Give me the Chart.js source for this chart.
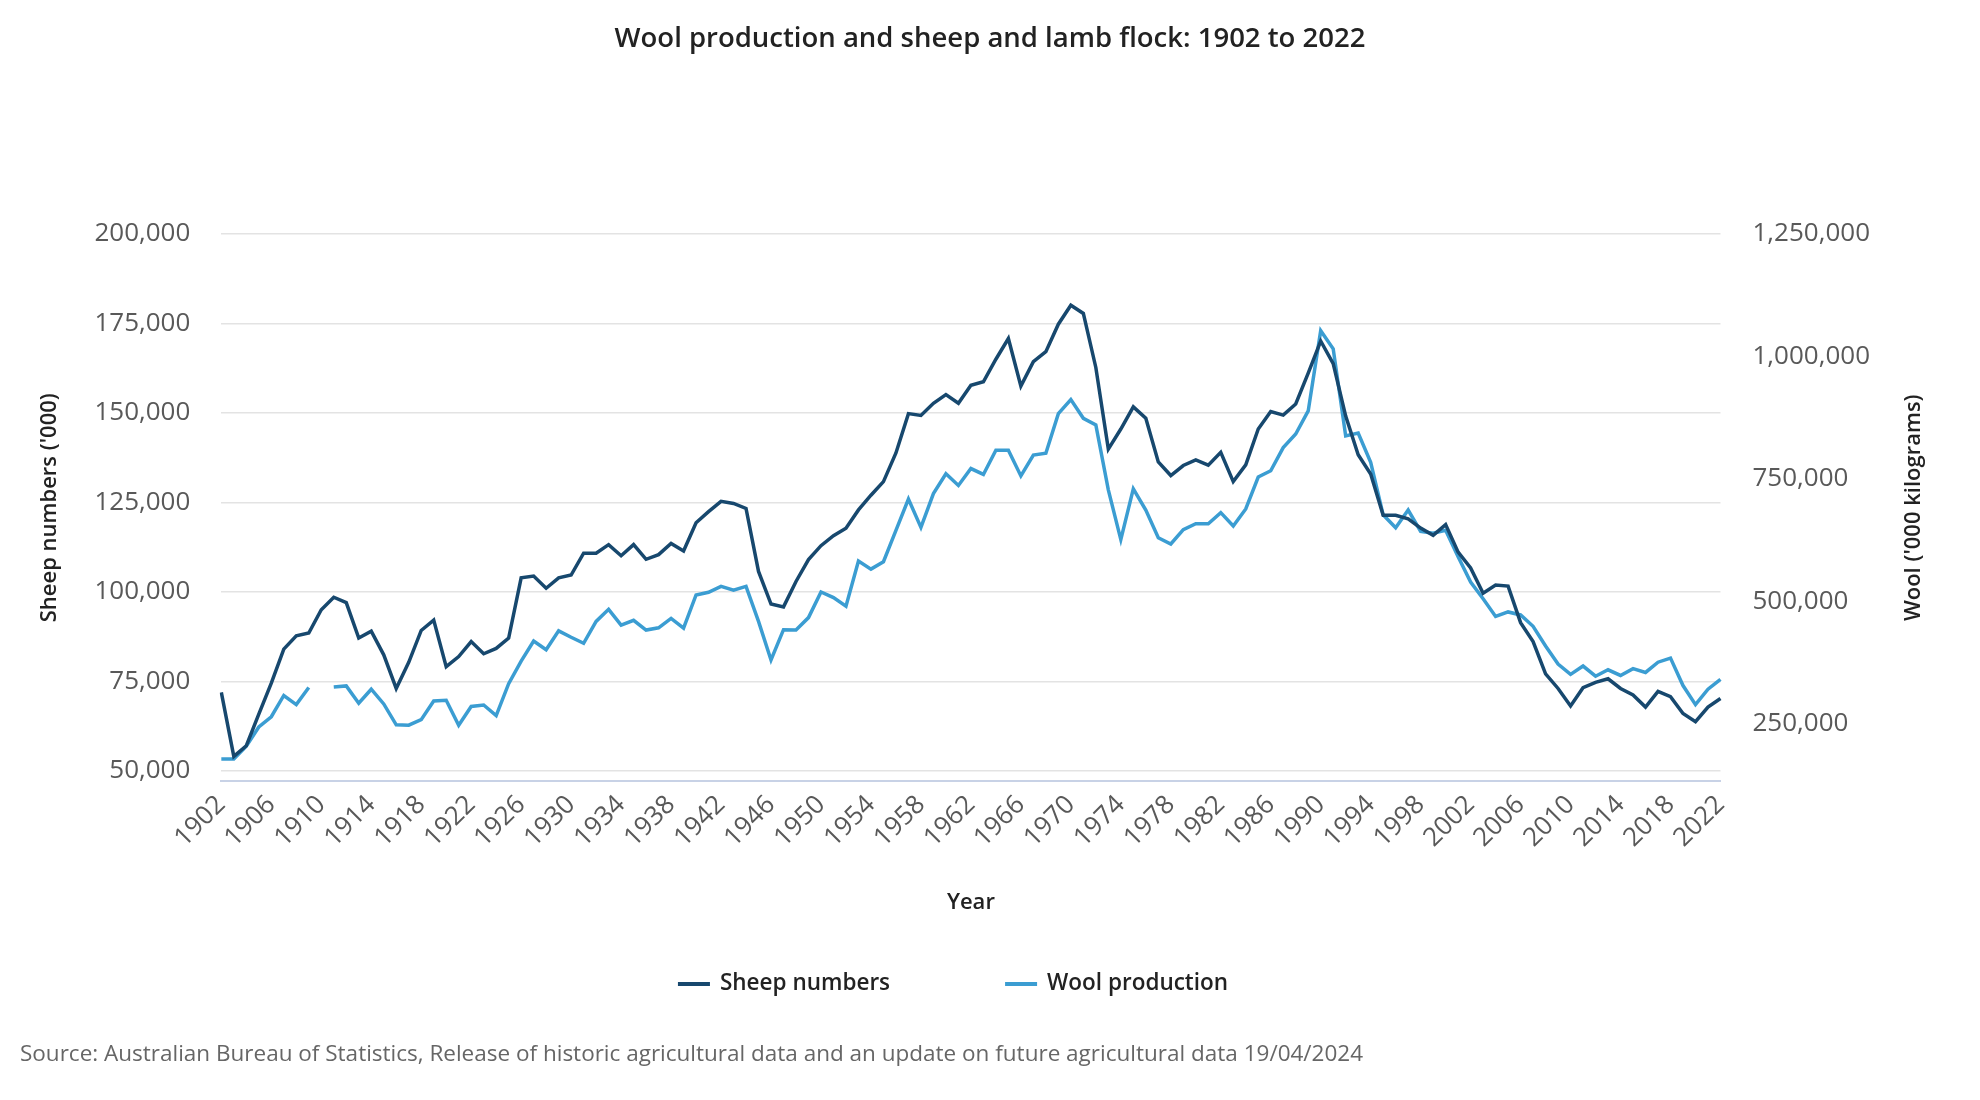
<!DOCTYPE html>
<html>
<head>
<meta charset="utf-8">
<script src="https://cdn.jsdelivr.net/npm/chart.js@4.4.1/dist/chart.umd.min.js"></script>
<style>
  body { margin: 0; background: #fff; }
  #wrap { width: 1980px; height: 1100px; }
</style>
</head>
<body>
<div id="wrap"><canvas id="myChart"></canvas></div>
<script>
// Years on the x axis
var years = [1902, 1903, 1904, 1905, 1906, 1907, 1908, 1909, 1910, 1911,
  1912, 1913, 1914, 1915, 1916, 1917, 1918, 1919, 1920, 1921,
  1922, 1923, 1924, 1925, 1926, 1927, 1928, 1929, 1930, 1931,
  1932, 1933, 1934, 1935, 1936, 1937, 1938, 1939, 1940, 1941,
  1942, 1943, 1944, 1945, 1946, 1947, 1948, 1949, 1950, 1951,
  1952, 1953, 1954, 1955, 1956, 1957, 1958, 1959, 1960, 1961,
  1962, 1963, 1964, 1965, 1966, 1967, 1968, 1969, 1970, 1971,
  1972, 1973, 1974, 1975, 1976, 1977, 1978, 1979, 1980, 1981,
  1982, 1983, 1984, 1985, 1986, 1987, 1988, 1989, 1990, 1991,
  1992, 1993, 1994, 1995, 1996, 1997, 1998, 1999, 2000, 2001,
  2002, 2003, 2004, 2005, 2006, 2007, 2008, 2009, 2010, 2011,
  2012, 2013, 2014, 2015, 2016, 2017, 2018, 2019, 2020, 2021, 2022];

// Sheep and lamb numbers ('000)
var sheepNumbers = [71900, 54000, 57000, 65800, 74500, 84000, 87700, 88500, 95000, 98500,
  97000, 87100, 89000, 82400, 73000, 80300, 89200, 92100, 79100, 81900,
  86100, 82700, 84200, 87100, 103900, 104400, 101000, 103900, 104700, 110800,
  110800, 113200, 110100, 113200, 109100, 110400, 113500, 111400, 119300, 122400,
  125300, 124700, 123300, 105700, 96600, 95800, 102900, 109000, 112900, 115700,
  117800, 122900, 127000, 130800, 138800, 149800, 149300, 152700, 155100, 152700,
  157700, 158700, 165000, 170800, 157500, 164300, 167100, 174800, 180100, 177800,
  162700, 139900, 145500, 151700, 148500, 136300, 132500, 135300, 136900, 135400,
  139000, 130800, 135500, 145500, 150400, 149400, 152500, 161100, 170100, 163800,
  149100, 138300, 132900, 121400, 121400, 120400, 117800, 115800, 118800, 111100,
  106700, 99600, 101900, 101600, 91400, 86100, 77100, 73000, 68100, 73200,
  74700, 75700, 73000, 71200, 67800, 72200, 70700, 66000, 63700, 67800, 70200];

// Wool production ('000 kilograms), 1910 missing
var woolProduction = [177500, 177500, 203700, 242800, 263800, 307200, 288500, 323700, null, 324500,
  326700, 291500, 320000, 290000, 247200, 246500, 257800, 296000, 297500, 246500,
  284800, 287800, 266000, 331300, 377500, 418400, 400700, 439200, 426100, 413800,
  458600, 483200, 450800, 460800, 440800, 445400, 464700, 444600, 512600, 518000,
  530100, 522400, 530100, 458600, 379800, 441600, 440800, 466300, 518700, 507200,
  489500, 582000, 565400, 580500, 644500, 708500, 650500, 719800, 760200, 736300,
  770800, 758800, 808200, 808200, 755800, 798500, 802200, 883000, 911700, 873500,
  860000, 727300, 625700, 729500, 685900, 629500, 616700, 646000, 658100, 658100,
  680700, 653600, 688300, 753500, 766300, 813600, 841300, 888600, 1052400, 1015500,
  837500, 843500, 783500, 676300, 650000, 686000, 642400, 638600, 644600, 590600,
  539100, 505000, 468600, 477900, 471700, 448500, 408300, 371300, 350400, 367400,
  346600, 359700, 348100, 362000, 354300, 375200, 383700, 327500, 288500, 320000, 340300];

// Tick labels
var yearTicks = [1902, 1906, 1910, 1914, 1918, 1922, 1926, 1930, 1934, 1938, 1942, 1946,
  1950, 1954, 1958, 1962, 1966, 1970, 1974, 1978, 1982, 1986, 1990, 1994, 1998,
  2002, 2006, 2010, 2014, 2018, 2022];
var sheepTicks = [50000, 75000, 100000, 125000, 150000, 175000, 200000];
var woolTicks = [250000, 500000, 750000, 1000000, 1250000];

var sourceText = 'Source: Australian Bureau of Statistics, Release of historic agricultural data and an update on future agricultural data 19/04/2024';
var woolAxisTitle = "Wool ('000 kilograms)";

Chart.defaults.font.family = "'Open Sans', sans-serif";

// legend drawn by hand so the two items can sit far apart
const lineLegend = {
  id: 'lineLegend',
  afterDraw(chart) {
    const ctx = chart.ctx;
    const sets = chart.data.datasets;
    ctx.save();
    ctx.font = "600 22.5px 'Open Sans'";
    let widths = sets.map(d => 32 + 10 + ctx.measureText(d.label).width);
    let gap = 115;
    let total = widths.reduce((a, b) => a + b, 0) + gap * (sets.length - 1);
    let x = 953 - total / 2;
    const y = 984;
    sets.forEach((d, i) => {
      ctx.strokeStyle = d.borderColor;
      ctx.lineWidth = 4;
      ctx.beginPath();
      ctx.moveTo(x, y);
      ctx.lineTo(x + 32, y);
      ctx.stroke();
      ctx.fillStyle = '#222';
      ctx.textAlign = 'left';
      ctx.textBaseline = 'middle';
      ctx.fillText(d.label, x + 42, y);
      x += widths[i] + gap;
    });
    ctx.restore();
  }
};

// right axis title reads bottom-to-top like the left one
const rightTitle = {
  id: 'rightTitle',
  afterDraw(chart) {
    const ctx = chart.ctx;
    const area = chart.chartArea;
    ctx.save();
    ctx.translate(1914, (area.top + area.bottom) / 2);
    ctx.rotate(-Math.PI / 2);
    ctx.font = "600 22px 'Open Sans'";
    ctx.fillStyle = '#222';
    ctx.textAlign = 'center';
    ctx.textBaseline = 'middle';
    ctx.fillText(woolAxisTitle, 0, 0);
    ctx.restore();
  }
};

new Chart("myChart", {
  type: "line",
  data: {
    labels: years,
    datasets: [{
      label: "Sheep numbers",
      data: sheepNumbers,
      borderColor: "#17486e",
      backgroundColor: "#17486e",
      borderWidth: 3.5,
      pointRadius: 0,
      tension: 0,
      yAxisID: "y"
    }, {
      label: "Wool production",
      data: woolProduction,
      borderColor: "#3b9dd2",
      backgroundColor: "#3b9dd2",
      borderWidth: 3.5,
      pointRadius: 0,
      tension: 0,
      spanGaps: false,
      yAxisID: "y1"
    }]
  },
  plugins: [lineLegend, rightTitle],
  options: {
    responsive: true,
    maintainAspectRatio: false,
    animation: false,
    layout: { padding: { left: 20, right: 20, top: 0, bottom: 0 } },
    plugins: {
      legend: { display: false },
      tooltip: { enabled: false },
      title: {
        display: true,
        text: "Wool production and sheep and lamb flock: 1902 to 2022",
        color: "#222",
        font: { size: 27.5, weight: "600" },
        padding: { top: 23, bottom: 178 }
      },
      subtitle: {
        display: true,
        position: "bottom",
        align: "start",
        text: sourceText,
        color: "#666",
        font: { size: 22.5, weight: "normal" },
        padding: { top: 0, bottom: 32 }
      }
    },
    scales: {
      x: {
        grid: { display: false },
        border: { display: true, color: "#c8d2e6", width: 2 },
        ticks: {
          autoSkip: false,
          minRotation: 45,
          maxRotation: 45,
          padding: 0,
          color: "#595959",
          font: { size: 26 },
          callback: function (val, i) {
            return yearTicks.includes(years[i]) ? String(years[i]) : "";
          }
        },
        title: {
          display: true,
          text: "Year",
          color: "#222",
          font: { size: 22, weight: "600" },
          padding: { top: 36, bottom: 125 }
        }
      },
      y: {
        position: "left",
        min: 47000,
        max: 200000,
        afterBuildTicks: function (s) { s.ticks = sheepTicks.map(v => ({ value: v })); },
        grid: { color: "#e3e3e3", lineWidth: 1.5, drawTicks: false },
        border: { display: false },
        ticks: {
          padding: 31,
          color: "#595959",
          font: { size: 26 },
          callback: v => v.toLocaleString("en-US")
        },
        title: {
          display: true,
          text: "Sheep numbers ('000)",
          color: "#222",
          font: { size: 22, weight: "600" },
          padding: { top: 17, bottom: 0 }
        }
      },
      y1: {
        position: "right",
        min: 131500,
        max: 1250000,
        afterBuildTicks: function (s) { s.ticks = woolTicks.map(v => ({ value: v })); },
        grid: { display: false, drawTicks: false },
        border: { display: false },
        ticks: {
          padding: 32,
          color: "#595959",
          font: { size: 26 },
          callback: v => v.toLocaleString("en-US")
        },
        // keeps room for the hand-drawn title; the visible one is drawn by rightTitle
        title: {
          display: true,
          text: woolAxisTitle,
          color: "rgba(0,0,0,0)",
          font: { size: 22, weight: "600" },
          padding: { top: 15, bottom: 16.6 }
        }
      }
    }
  }
});
</script>
</body>
</html>
